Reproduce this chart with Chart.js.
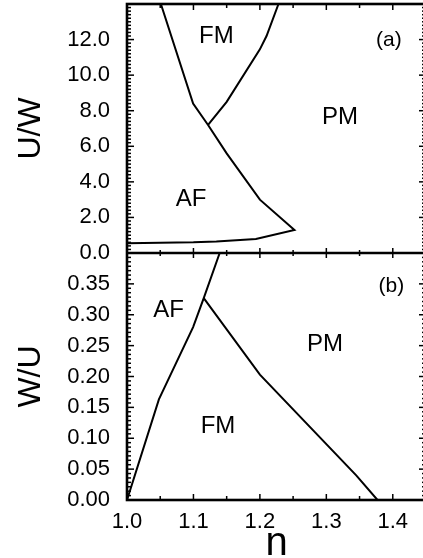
<!DOCTYPE html>
<html>
<head>
<meta charset="utf-8">
<script src="https://cdn.jsdelivr.net/npm/chart.js@4.4.0/dist/chart.umd.min.js"></script>
<style>
html, body { margin: 0; padding: 0; background: #fff; overflow: hidden; }
#wrap { width: 430px; height: 558px; }
</style>
</head>
<body>
<div id="wrap"><canvas id="phase" width="430" height="558"></canvas></div>
<script>
// panel (a): U/W against n
const afLineN  = [1.051, 1.0995, 1.122, 1.15, 1.2, 1.252, 1.194, 1.1345, 1.1, 1.0];
const afLineUW = [14.0, 8.4, 7.2, 5.6, 3.0, 1.3, 0.79, 0.65, 0.6, 0.55];
const fmLineN  = [1.122, 1.15, 1.2, 1.21, 1.228];
const fmLineUW = [7.2, 8.5, 11.45, 12.2, 14.0];

// panel (b): W/U against n
const afFmN  = [1.0, 1.048, 1.0995, 1.1155, 1.1395];
const afFmWU = [0.0, 0.163, 0.28, 0.327, 0.40];
const fmPmN  = [1.1155, 1.2, 1.345, 1.377];
const fmPmWU = [0.327, 0.203, 0.04, 0.0];

// tick labels
const nTicks  = [1.0, 1.1, 1.2, 1.3, 1.4];
const uwTicks = [0, 2, 4, 6, 8, 10, 12];
const wuTicks = [0, 0.05, 0.10, 0.15, 0.20, 0.25, 0.30, 0.35];

// region names
const regionText = ['FM', '(a)', 'PM', 'AF', 'AF', '(b)', 'PM', 'FM'];
const regionAxis = ['uw', 'uw', 'uw', 'uw', 'wu', 'wu', 'wu', 'wu'];
const regionN    = [1.1345, 1.394, 1.3205, 1.0965, 1.0625, 1.398, 1.298, 1.137];
const regionY    = [12.2, 12.1, 7.6, 3.04, 0.307, 0.35, 0.252, 0.119];

const FONT = '"Liberation Sans", Arial, Helvetica, sans-serif';

const pairs = (xs, ys) => xs.map((x, i) => ({ x: x, y: ys[i] }));

const lineStyle = {
    borderColor: '#000',
    borderWidth: 2,
    pointRadius: 0,
    showLine: true,
    fill: false,
    tension: 0
};

// frame, inward ticks and region names
const framePlugin = {
    id: 'frame',
    afterDraw(chart) {
        const { ctx, chartArea: a, scales } = chart;
        const xs = scales.x;
        const mid = scales.uw.bottom;
        const seg = (x0, y0, x1, y1) => {
            ctx.beginPath();
            ctx.moveTo(x0, y0);
            ctx.lineTo(x1, y1);
            ctx.stroke();
        };
        ctx.save();
        ctx.strokeStyle = '#000';
        ctx.lineWidth = 1.5;

        // n ticks every 0.05
        for (let k = 0; k <= 9; k++) {
            const px = xs.getPixelForValue(1 + k * 0.05);
            const len = k % 2 === 0 ? 6 : 4;
            seg(px, a.top, px, a.top + len);
            seg(px, mid - len + 1, px, mid + len - 1);
            seg(px, a.bottom, px, a.bottom - len);
        }

        // y ticks, major + minor
        const yTicks = (scale, step, sub) => {
            const count = Math.round((scale.max - scale.min) / step * sub);
            for (let j = 0; j <= count; j++) {
                const py = scale.getPixelForValue(scale.min + j * step / sub);
                const len = j % sub === 0 ? 7 : 4;
                seg(a.left, py, a.left + len, py);
                seg(a.right, py, a.right - len, py);
            }
        };
        yTicks(scales.uw, 2, 10);
        yTicks(scales.wu, 0.05, 7);

        ctx.lineWidth = 2.6;
        ctx.strokeRect(a.left, a.top, a.right - a.left, a.bottom - a.top);
        seg(a.left, mid, a.right, mid);

        ctx.fillStyle = '#000';
        ctx.textAlign = 'center';
        ctx.textBaseline = 'middle';
        for (let i = 0; i < regionText.length; i++) {
            const small = regionText[i].charAt(0) === '(';
            ctx.font = (small ? '21px ' : '24px ') + FONT;
            const px = xs.getPixelForValue(regionN[i]);
            const py = scales[regionAxis[i]].getPixelForValue(regionY[i]);
            ctx.fillText(regionText[i], px, py + (small ? 2 : 0));
        }
        ctx.restore();
    }
};

const yAxis = (min, max, ticks, digits, title, weight, share) => ({
    type: 'linear',
    position: 'left',
    stack: 'panels',
    stackWeight: share,
    weight: weight,
    min: min,
    max: max,
    grid: { display: false, drawTicks: false },
    border: { display: false },
    afterBuildTicks: s => { s.ticks = ticks.map(v => ({ value: v })); },
    afterFit: s => {
        s.width = 127;
        s.paddingTop = 0;
        s.paddingBottom = 0;
    },
    ticks: {
        padding: 17,
        autoSkip: false,
        color: '#000',
        font: { family: FONT, size: 22 },
        callback: v => Number(v).toFixed(digits)
    },
    title: {
        display: true,
        text: title,
        color: '#000',
        font: { family: FONT, size: 32, lineHeight: 1 },
        padding: { top: 15, bottom: 0 }
    }
});

const chart = new Chart('phase', {
    type: 'scatter',
    data: {
        datasets: [
            { ...lineStyle, yAxisID: 'uw', data: pairs(afLineN, afLineUW) },
            { ...lineStyle, yAxisID: 'uw', data: pairs(fmLineN, fmLineUW) },
            { ...lineStyle, yAxisID: 'wu', data: pairs(afFmN, afFmWU) },
            { ...lineStyle, yAxisID: 'wu', data: pairs(fmPmN, fmPmWU) }
        ]
    },
    options: {
        responsive: false,
        animation: false,
        layout: { padding: { top: 4, right: 4, bottom: 0, left: 0 } },
        plugins: {
            legend: { display: false },
            tooltip: { enabled: false }
        },
        scales: {
            x: {
                type: 'linear',
                position: 'bottom',
                min: 1.0,
                max: 1.45,
                grid: { display: false, drawTicks: false },
                border: { display: false },
                afterBuildTicks: s => { s.ticks = nTicks.map(v => ({ value: v })); },
                afterFit: s => {
                    s.height = 58;
                    s.paddingLeft = 0;
                    s.paddingRight = 0;
                },
                ticks: {
                    padding: 9,
                    autoSkip: false,
                    color: '#000',
                    maxRotation: 0,
                    font: { family: FONT, size: 22 },
                    callback: v => Number(v).toFixed(1)
                },
                title: {
                    display: true,
                    text: 'n',
                    color: '#000',
                    font: { family: FONT, size: 40, lineHeight: 0.72 },
                    padding: { top: 0, bottom: 0 }
                }
            },
            uw: yAxis(0, 14, uwTicks, 1, 'U/W', 2, 249),
            wu: yAxis(0, 0.4, wuTicks, 2, 'W/U', 1, 247)
        }
    },
    plugins: [framePlugin]
});
</script>
</body>
</html>
